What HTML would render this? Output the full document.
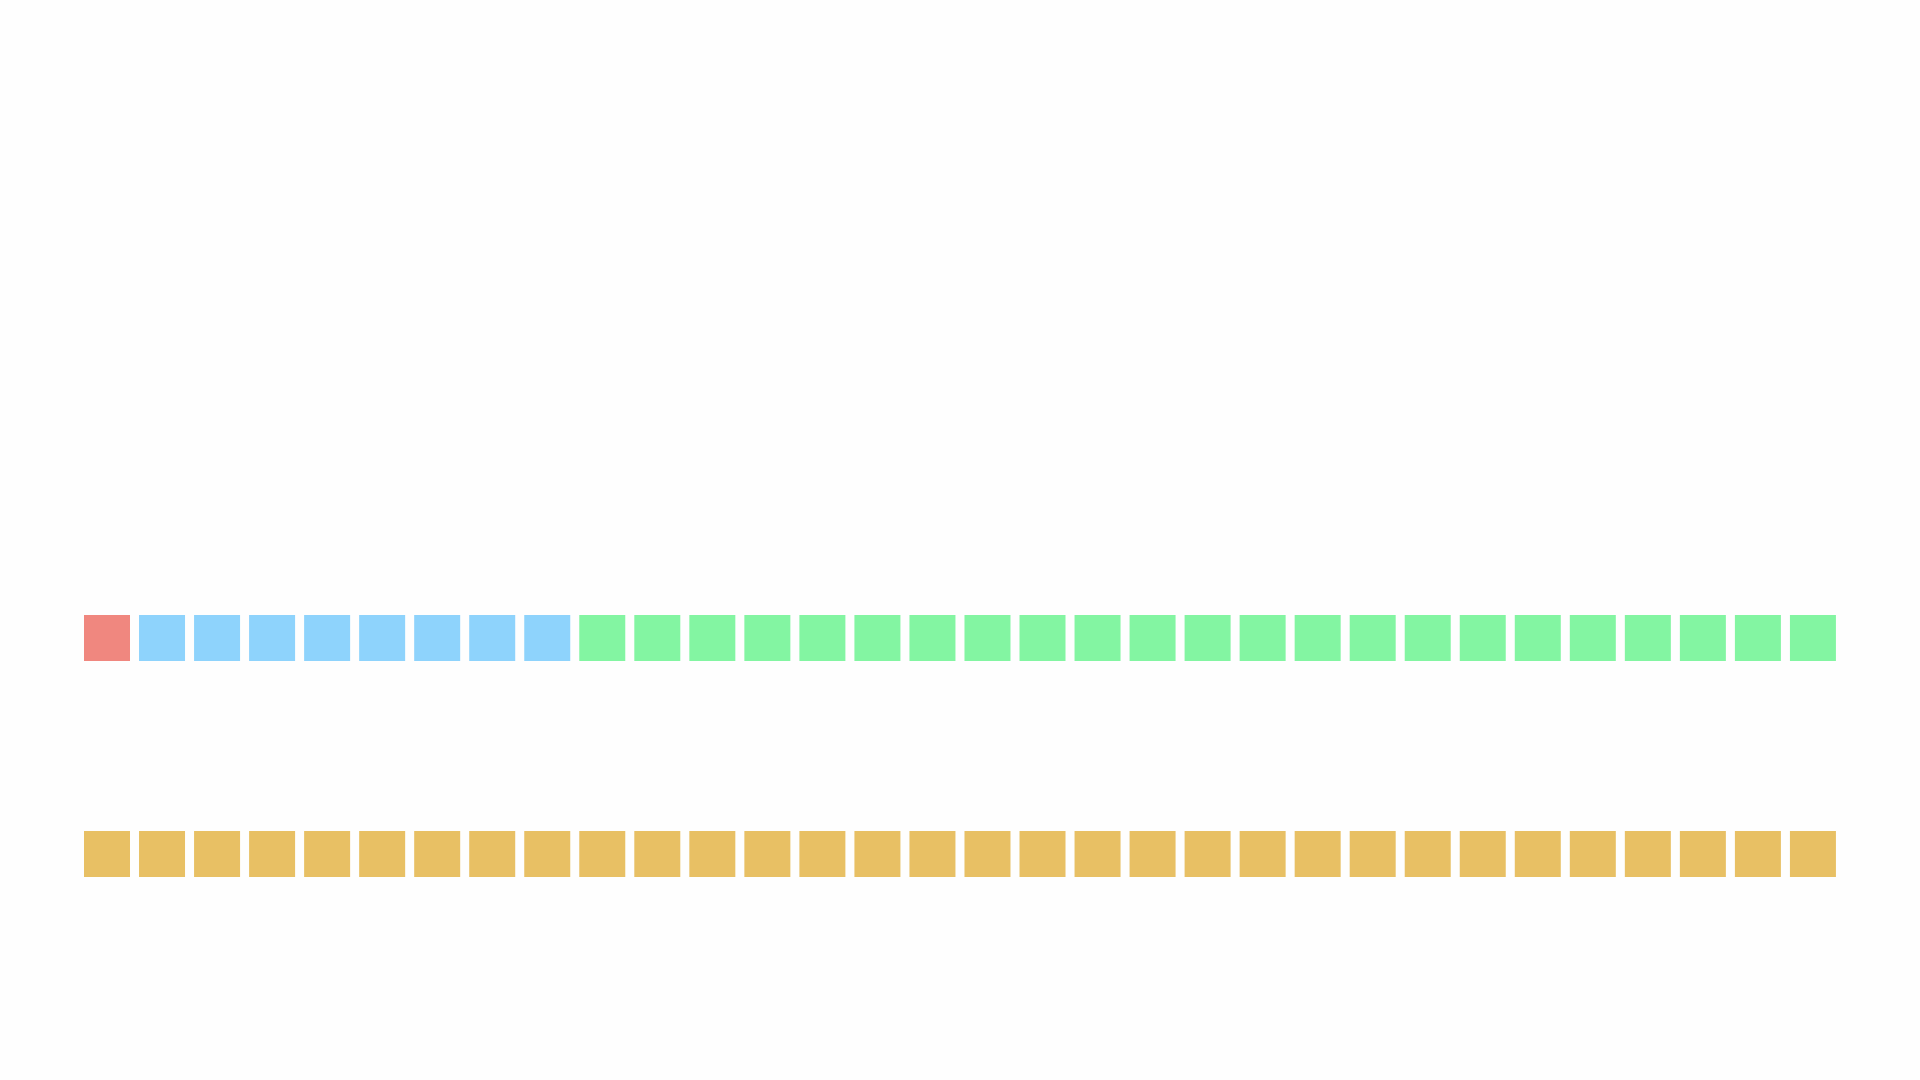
<!DOCTYPE html>
<html><head><meta charset="utf-8"><style>
html,body{margin:0;padding:0;background:#fefefe;width:1920px;height:1080px;overflow:hidden;font-family:"Liberation Sans",sans-serif;}
</style></head><body>
<svg id="chart" width="1920" height="1080" xmlns="http://www.w3.org/2000/svg"></svg>
<script>
const rowNames = ['top-row', 'bottom-row'];
const rowCategories = [['red', 'blue', 'green'], ['yellow']];
const rowCounts = [[1, 8, 23], [32]];
const categoryColors = {red: '#f0877f', blue: '#8ed3fc', green: '#83f5a2', yellow: '#e8c064'};

const svg = document.getElementById('chart');
const NS = 'http://www.w3.org/2000/svg';
const x0 = 84, pitch = 55.03, size = 46;
const rowY = [615, 831];
function xPos(i) { return x0 + i * pitch; }
rowCounts.forEach((counts, r) => {
  const g = document.createElementNS(NS, 'g');
  
  
  svg.appendChild(g);
  let idx = 0;
  counts.forEach((n, c) => {
    const cat = rowCategories[r][c];
    for (let k = 0; k < n; k++) {
      const rect = document.createElementNS(NS, 'rect');
      rect.setAttribute('x', xPos(idx));
      rect.setAttribute('y', rowY[r]);
      rect.setAttribute('width', size);
      rect.setAttribute('height', size);
      rect.setAttribute('fill', categoryColors[cat]);
      
      
      g.appendChild(rect);
      idx++;
    }
  });
});
</script>
</body></html>
